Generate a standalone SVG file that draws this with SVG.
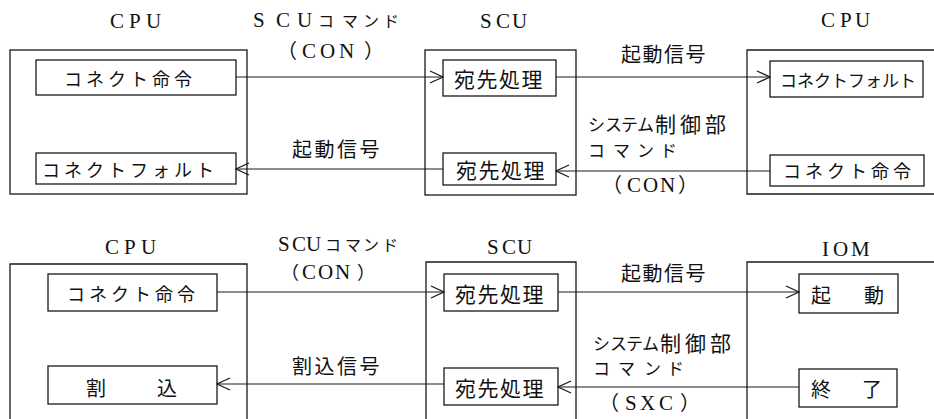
<svg xmlns="http://www.w3.org/2000/svg" width="934" height="419" viewBox="0 0 934 419">
<style>
.box{fill:none;stroke:#1a1a1a;stroke-width:1.3}
.ln{fill:none;stroke:#1a1a1a;stroke-width:1.2}
.lat{font-family:'Liberation Serif','Times New Roman','DejaVu Serif',serif;font-size:21px;fill:#111}
.jp{font-family:'Noto Sans CJK JP',sans-serif;fill:#111}
.c{dominant-baseline:central}
</style>
<defs>
<marker id="ah" markerUnits="userSpaceOnUse" markerWidth="16" markerHeight="16" refX="15" refY="8" orient="auto">
<path d="M2,2 L15,8 L2,14" fill="none" stroke="#1a1a1a" stroke-width="1.3"/>
</marker>
</defs>
<rect width="934" height="419" fill="#fff"/>

<!-- top section -->
<g id="cpu-top-left">
<rect class="box" x="10" y="50" width="237" height="144"/>
<text class="lat" x="110 129 146" y="28">CPU</text>
<g id="cpu1-connect-cmd">
<rect class="box" x="36" y="60" width="200" height="35"/>
<text class="jp c" x="64" y="78" font-size="18" letter-spacing="4">コネクト命令</text>
</g>
<g id="cpu1-connect-fault">
<rect class="box" x="36" y="153" width="200" height="31"/>
<text class="jp c" x="42" y="169" font-size="18" letter-spacing="4">コネクトフォルト</text>
</g>
</g>

<g id="scu-top">
<rect class="box" x="425" y="50" width="151" height="145"/>
<text class="lat" x="480 496 512" y="28">SCU</text>
<g id="scu1-dest-a">
<rect class="box" x="443" y="60" width="113" height="36"/>
<text class="jp c" x="454" y="78" font-size="21" letter-spacing="1.5">宛先処理</text>
</g>
<g id="scu1-dest-b">
<rect class="box" x="443" y="153" width="113" height="32"/>
<text class="jp c" x="456" y="169" font-size="21" letter-spacing="1.5">宛先処理</text>
</g>
</g>

<g id="cpu-top-right">
<path class="box" d="M934,50 H747 V194 H934"/>
<text class="lat" x="821 840 855" y="27">CPU</text>
<g id="cpu2-connect-fault">
<rect class="box" x="770" y="61" width="153" height="36"/>
<text class="jp c" x="780" y="79" font-size="17">コネクトフォルト</text>
</g>
<g id="cpu2-connect-cmd">
<rect class="box" x="770" y="155" width="154" height="31"/>
<text class="jp c" x="783" y="170" font-size="18" letter-spacing="4">コネクト命令</text>
</g>
</g>

<!-- bottom section -->
<g id="cpu-bottom">
<path class="box" d="M10,419 V264 H247 V419"/>
<text class="lat" x="105 124 141" y="254">CPU</text>
<g id="cpu3-connect-cmd">
<rect class="box" x="48" y="274" width="169" height="37"/>
<text class="jp c" x="67" y="293" font-size="18" letter-spacing="4">コネクト命令</text>
</g>
<g id="cpu3-interrupt">
<rect class="box" x="48" y="366" width="169" height="38"/>
<text class="jp c" x="86 121 157" y="387" font-size="20">割　込</text>
</g>
</g>

<g id="scu-bottom">
<path class="box" d="M426,419 V262 H576 V419"/>
<text class="lat" x="487 502 517" y="254">SCU</text>
<g id="scu2-dest-a">
<rect class="box" x="444" y="274" width="114" height="37"/>
<text class="jp c" x="455" y="293" font-size="21" letter-spacing="1.5">宛先処理</text>
</g>
<g id="scu2-dest-b">
<rect class="box" x="444" y="368" width="114" height="37"/>
<text class="jp c" x="455" y="387" font-size="21" letter-spacing="1.5">宛先処理</text>
</g>
</g>

<g id="iom">
<path class="box" d="M934,262 H747 V419"/>
<text class="lat" x="822 833 851" y="256">IOM</text>
<g id="iom-start">
<rect class="box" x="799" y="274" width="99" height="39"/>
<text class="jp c" x="811 838 864" y="294" font-size="20">起　動</text>
</g>
<g id="iom-end">
<rect class="box" x="799" y="369" width="98" height="38"/>
<text class="jp c" x="811 837 862" y="388" font-size="20">終　了</text>
</g>
</g>

<g id="connectors">
<line class="ln" x1="236" y1="77" x2="443" y2="77" marker-end="url(#ah)"/>
<line class="ln" x1="556" y1="77" x2="770" y2="77" marker-end="url(#ah)"/>
<line class="ln" x1="770" y1="171" x2="556" y2="171" marker-end="url(#ah)"/>
<line class="ln" x1="443" y1="169" x2="236" y2="169" marker-end="url(#ah)"/>
<line class="ln" x1="217" y1="292" x2="444" y2="292" marker-end="url(#ah)"/>
<line class="ln" x1="558" y1="292" x2="799" y2="292" marker-end="url(#ah)"/>
<line class="ln" x1="799" y1="387" x2="558" y2="387" marker-end="url(#ah)"/>
<line class="ln" x1="444" y1="384" x2="217" y2="384" marker-end="url(#ah)"/>
</g>

<g id="connector-labels">
<text y="27"><tspan class="lat" x="253 276 297">SCU</tspan><tspan class="jp" font-size="16" x="318 342 363 383">コマンド</tspan></text>
<text y="58"><tspan class="jp" font-size="20" x="277">（</tspan><tspan class="lat" x="302 320 339">CON</tspan><tspan class="jp" font-size="20" x="364">）</tspan></text>
<text class="jp c" x="621" y="53" font-size="20" letter-spacing="1.5">起動信号</text>
<text class="jp c" x="292" y="148" font-size="20" letter-spacing="2.5">起動信号</text>
<text class="c" y="123"><tspan class="jp" font-size="17" x="588 605 621 637">システム</tspan><tspan class="jp" font-size="21" x="655 680 705">制御部</tspan></text>
<text class="jp c" x="588 613 637 660" y="149" font-size="17">コマンド</text>
<text y="192"><tspan class="jp" font-size="20" x="602">（</tspan><tspan class="lat" x="627 643 660">CON</tspan><tspan class="jp" font-size="20" x="678">）</tspan></text>

<text y="251"><tspan class="lat" x="278 292 306">SCU</tspan><tspan class="jp" font-size="16" x="325 345 363 382">コマンド</tspan></text>
<text y="279"><tspan class="jp" font-size="18" x="281">（</tspan><tspan class="lat" x="302 318 335">CON</tspan><tspan class="jp" font-size="18" x="357">）</tspan></text>
<text class="jp c" x="621" y="272" font-size="20" letter-spacing="1.5">起動信号</text>
<text class="jp c" x="292" y="365" font-size="20" letter-spacing="2.5">割込信号</text>
<text class="c" y="342"><tspan class="jp" font-size="17" x="593 610 626 642">システム</tspan><tspan class="jp" font-size="21" x="660 685 710">制御部</tspan></text>
<text class="jp c" x="593 618 644 667" y="367" font-size="17">コマンド</text>
<text y="410"><tspan class="jp" font-size="20" x="599">（</tspan><tspan class="lat" x="625 640 659">SXC</tspan><tspan class="jp" font-size="20" x="680">）</tspan></text>
</g>
</svg>
